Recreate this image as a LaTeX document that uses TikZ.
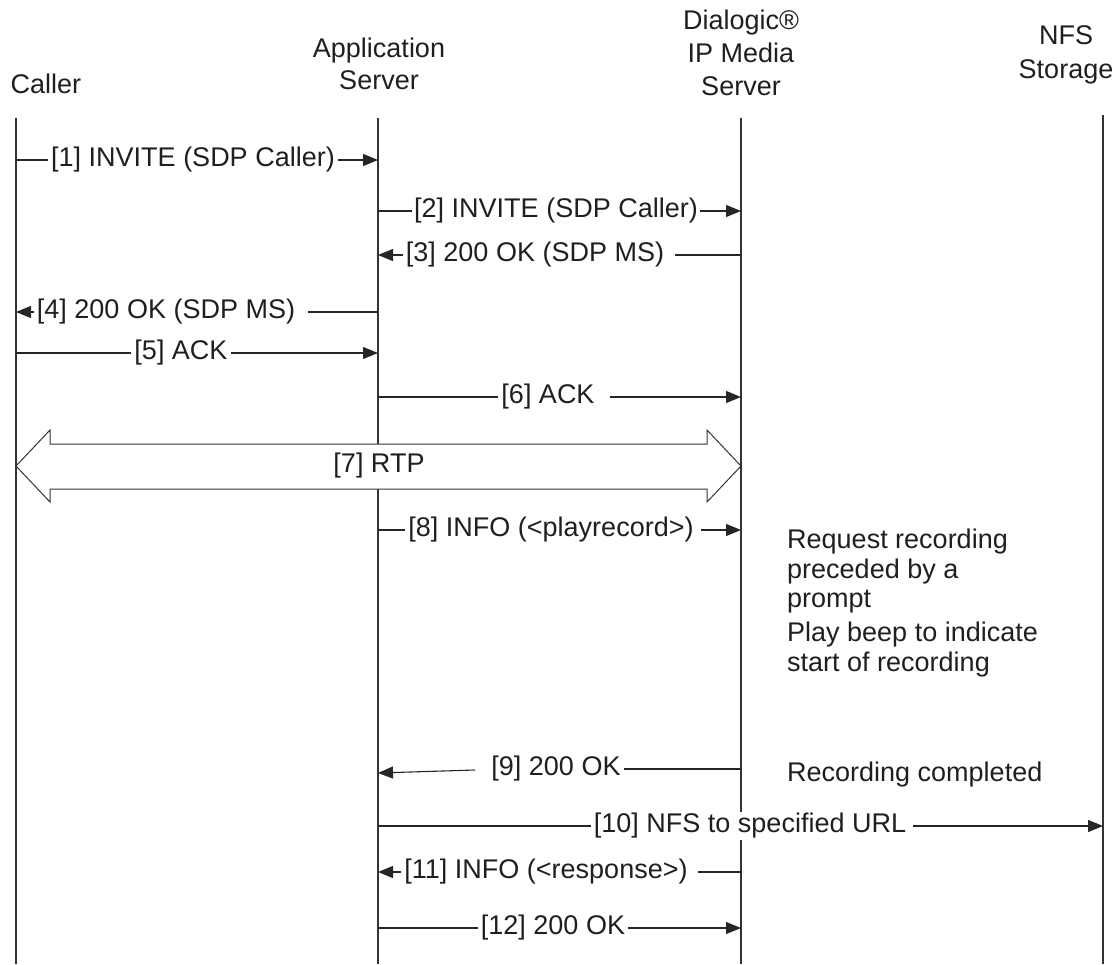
\documentclass[tikz,border=0pt]{standalone}
\usepackage{fontspec}
\setmainfont{Liberation Sans}
\usetikzlibrary{arrows.meta}
\begin{document}
\begin{tikzpicture}[x=1pt,y=-1pt,
  every node/.style={font=\fontsize{27}{32}\selectfont, text=black!88},
  head/.style={align=center, inner sep=0pt},
  life/.style={line width=1.1pt, draw=black!80},
  seg/.style={line width=1.1pt, draw=black!85},
  msg/.style={seg, -{Triangle[length=15pt,width=12pt]}},
  lbl/.style={inner xsep=3pt, inner ysep=1pt},
  note/.style={align=left, anchor=north west, inner sep=0pt, font=\fontsize{27}{29.5}\selectfont},
  rtp/.style={line width=1pt, draw=black!80, fill=white}]
\useasboundingbox (0,0) rectangle (1118,964);

% headers
\node[head] (hC) at (46,84) {Caller};
\node[head] (hA) at (379,64) {Application\\Server};
\node[head, font=\fontsize{27}{33}\selectfont] (hM) at (741,53) {Dialogic\textregistered\\IP Media\\Server};
\node[head, font=\fontsize{27}{34}\selectfont] (hN) at (1066,55) {NFS\\Storage};

% lifelines
\coordinate (cT) at (16,118);   \coordinate (cB) at (16,964);
\coordinate (aT) at (378,118);  \coordinate (aB) at (378,964);
\coordinate (mT) at (741,118);  \coordinate (mB) at (741,964);
\coordinate (nT) at (1103,115); \coordinate (nB) at (1103,964);
\draw[life] (cT) -- (cB);
\draw[life] (aT) -- (aB);
\draw[life] (mT) -- (mB);
\draw[life] (nT) -- (nB);

% [7] RTP double arrow
\draw[rtp] (16,466) -- (50,430) -- (50,444) -- (707,444) -- (707,430) -- (741,466)
  -- (707,502) -- (707,489) -- (50,489) -- (50,502) -- cycle;
\node (l7) at (379,466) {[7] RTP};

% [1]
\coordinate (m1s) at (16,160);  \coordinate (m1e) at (378,160);
\node[lbl] (l1) at (193,160) {[1] INVITE (SDP Caller)};
\draw[seg] (m1s) -- (l1.west |- m1s);
\draw[msg] (l1.east |- m1s) -- (m1e);

% [2]
\coordinate (m2s) at (378,211); \coordinate (m2e) at (741,211);
\node[lbl, inner xsep=2pt] (l2) at (556,211) {[2] INVITE (SDP Caller)};
\draw[seg] (m2s) -- (l2.west |- m2s);
\draw[msg] (l2.east |- m2s) -- (m2e);

% [3]
\coordinate (m3s) at (741,255); \coordinate (m3e) at (378,255);
\node[lbl] (l3) at (535,255) {[3] 200 OK (SDP MS)};
\draw[seg] (m3s) -- ([xshift=8pt]l3.east |- m3s);
\draw[msg] (l3.west |- m3s) -- (m3e);

% [4]
\coordinate (m4s) at (378,312); \coordinate (m4e) at (16,312);
\node[lbl] (l4) at (166,312) {[4] 200 OK (SDP MS)};
\draw[seg] (m4s) -- ([xshift=10pt]l4.east |- m4s);
\draw[msg] (l4.west |- m4s) -- (m4e);

% [5]
\coordinate (m5s) at (16,353);  \coordinate (m5e) at (378,353);
\node[lbl] (l5) at (181,353) {[5] ACK};
\draw[seg] (m5s) -- (l5.west |- m5s);
\draw[msg] (l5.east |- m5s) -- (m5e);

% [6]
\coordinate (m6s) at (378,397); \coordinate (m6e) at (741,397);
\node[lbl] (l6) at (548,397) {[6] ACK};
\draw[seg] (m6s) -- (l6.west |- m6s);
\draw[msg] ([xshift=12pt]l6.east |- m6s) -- (m6e);

% [8]
\coordinate (m8s) at (378,530); \coordinate (m8e) at (741,530);
\node[lbl] (l8) at (551,530) {[8] INFO (<playrecord>)};
\draw[seg] (m8s) -- (l8.west |- m8s);
\draw[msg] ([xshift=4pt]l8.east |- m8s) -- (m8e);

% [9]
\coordinate (m9s) at (741,769); \coordinate (m9e) at (378,773);
\node[lbl] (l9) at (556,769) {[9] 200 OK};
\draw[seg] (m9s) -- (l9.east |- m9s);
\coordinate (m9m) at (475,770);
\draw[msg] (m9m) -- (m9e);

% [10]
\coordinate (m10s) at (378,826); \coordinate (m10e) at (1103,826);
\node[lbl, fill=white] (l10) at (750,826) {[10] NFS to specified URL};
\draw[seg] (m10s) -- (l10.west |- m10s);
\draw[msg] ([xshift=4pt]l10.east |- m10s) -- (m10e);

% [11]
\coordinate (m11s) at (741,872); \coordinate (m11e) at (378,872);
\node[lbl] (l11) at (546,872) {[11] INFO (<response>)};
\draw[seg] (m11s) -- ([xshift=7pt]l11.east |- m11s);
\draw[msg] (l11.west |- m11s) -- (m11e);

% [12]
\coordinate (m12s) at (378,928); \coordinate (m12e) at (741,928);
\node[lbl] (l12) at (553,928) {[12] 200 OK};
\draw[seg] (m12s) -- (l12.west |- m12s);
\draw[msg] (l12.east |- m12s) -- (m12e);

% notes
\node[note] (n1) at (787,529) {Request recording\\preceded by a\\prompt};
\node[note] (n2) at (787,622) {Play beep to indicate\\start of recording};
\node[note] (n3) at (787,762) {Recording completed};
\end{tikzpicture}
\end{document}
